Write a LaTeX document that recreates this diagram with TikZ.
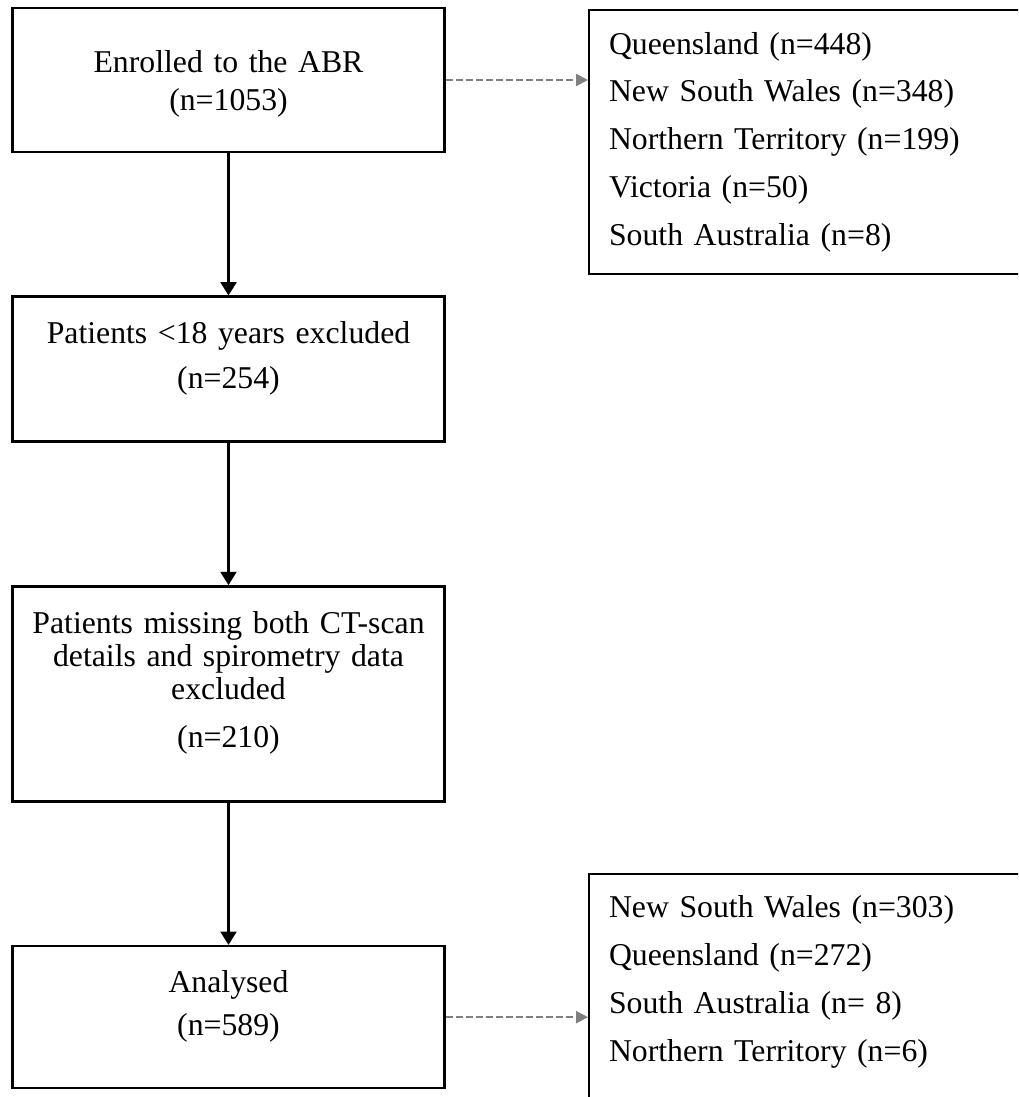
\documentclass[tikz,border=0pt]{standalone}
\usepackage{fontspec}
\setmainfont{Liberation Serif}
\usetikzlibrary{arrows.meta, positioning}
\newcommand\liftend[1]{\endgraf\vspace*{#1}}

\begin{document}
\begin{tikzpicture}[x=0.378pt, y=-0.378pt, node distance=53.8pt,
  box/.style={draw, line width=0.9pt, minimum width=163.3pt, text width=150pt,
    align=center, inner sep=0pt, font=\fontsize{12}{12.5}\selectfont},
  lift/.style={execute at end node={\liftend{#1}}},
  lift/.default=8.3pt,
  list/.style={draw, line width=0.9pt, anchor=north west, text width=152pt,
    align=left, inner xsep=7.5pt, inner ysep=8pt, font=\fontsize{12}{18.1}\selectfont},
  flow/.style={-{Triangle[width=6pt,length=5pt]}, line width=0.8pt},
  side/.style={-{Triangle[width=4.5pt,length=4.5pt]}, gray, line width=0.9pt,
    dash pattern=on 2.6pt off 1.2pt}]
  \useasboundingbox (0,0) rectangle (1018,1097);
  \clip (0,0) rectangle (1018,1097);
  % main column
  \node[box, lift=-3pt, minimum height=54.4pt] (enrol) at (228.5,80) {Enrolled to the ABR\\[1.9pt](n=1053)};
  \node[box, lift, minimum height=54.8pt, below=of enrol] (age) {Patients <18 years excluded\\[4.5pt](n=254)};
  \node[box, lift, minimum height=81.3pt, below=of age] (missing) {Patients missing both CT-scan\\details and spirometry data\\excluded\\[5.6pt](n=210)};
  \node[box, lift, minimum height=53.7pt, below=of missing] (analysed) {Analysed\\[3.8pt](n=589)};
  % state breakdowns
  \node[list, minimum height=99.8pt] (states1) at (588,9) {Queensland (n=448)\\New South Wales (n=348)\\Northern Territory (n=199)\\Victoria (n=50)\\South Australia (n=8)};
  \node[list, lift=14pt] (states2) at (588,873) {New South Wales (n=303)\\Queensland (n=272)\\South Australia (n= 8)\\Northern Territory (n=6)};
  \draw[flow] (enrol) -- (age);
  \draw[flow] (age) -- (missing);
  \draw[flow] (missing) -- (analysed);
  \draw[side] (enrol.east) -- (enrol.east -| states1.west);
  \draw[side] (analysed.east) -- (analysed.east -| states2.west);
\end{tikzpicture}
\end{document}
